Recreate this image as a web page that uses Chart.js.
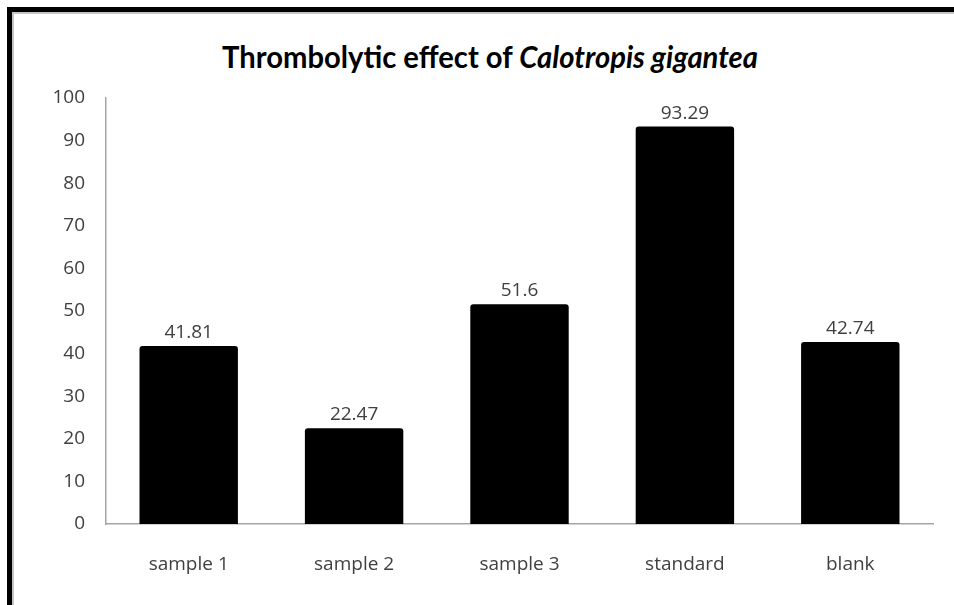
<!DOCTYPE html>
<html>
<head>
<meta charset="utf-8">
<script src="https://cdn.jsdelivr.net/npm/chart.js@4/dist/chart.umd.min.js"></script>
<style>
  html, body { margin: 0; padding: 0; background: #fff; }
  #wrap { position: relative; width: 954px; height: 605px; overflow: hidden; background: #fff; }
  #frame { position: absolute; left: 7px; top: 7px; right: 0; bottom: 0;
           border-left: 5px solid #000; border-top: 5px solid #000; }
  #inner { position: absolute; left: 0; top: 0; right: 0; bottom: 0;
           border-left: 2px solid #c4c4c4; border-top: 2px solid #c4c4c4; }
  #title { position: absolute; top: 41px; left: 0; white-space: nowrap;
           font-family: Lato, "Open Sans", sans-serif; font-weight: bold; font-size: 30px;
           line-height: 30px; color: #000; transform-origin: 0 0; }
  #title i { font-style: italic; }
  canvas { position: absolute; left: 0; top: 0; }
</style>
</head>
<body>
<div id="wrap">
  <div id="frame"><div id="inner"></div></div>
  <div id="title">Thrombolytic effect of <i>Calotropis gigantea</i></div>
  <canvas id="c" width="954" height="605"></canvas>
</div>
<script>
const categories = ["sample 1", "sample 2", "sample 3", "standard", "blank"];
const values = [41.81, 22.47, 51.6, 93.29, 42.74];
const yMin = 0, yMax = 100, yStep = 10;

// fit the HTML title to the reference's width and position
(function () {
  const t = document.getElementById('title');
  const w = t.getBoundingClientRect().width;
  const targetW = 536, targetLeft = 222;
  t.style.transform = 'scaleX(' + (targetW / w) + ')';
  t.style.left = targetLeft + 'px';
})();

const FONT = '"Open Sans", sans-serif';
const TXT = '#404040';

const valueLabels = {
  id: 'valueLabels',
  afterDatasetsDraw(chart) {
    const ctx = chart.ctx;
    const meta = chart.getDatasetMeta(0);
    ctx.save();
    ctx.font = '19px ' + FONT;
    ctx.fillStyle = TXT;
    ctx.textAlign = 'center';
    ctx.textBaseline = 'alphabetic';
    meta.data.forEach((bar, i) => {
      ctx.fillText(String(values[i]), bar.x, bar.y - 8);
    });
    ctx.restore();
  }
};

new Chart(document.getElementById('c'), {
  type: 'bar',
  data: {
    labels: categories,
    datasets: [{
      data: values,
      backgroundColor: '#000',
      borderColor: '#000',
      borderWidth: 0,
      borderRadius: 3,
      barPercentage: 0.595,
      categoryPercentage: 1.0
    }]
  },
  options: {
    responsive: false,
    animation: false,
    events: [],
    layout: { padding: { left: 0, right: 21, top: 98, bottom: 0 } },
    plugins: { legend: { display: false }, tooltip: { enabled: false }, title: { display: false } },
    scales: {
      x: {
        grid: { display: false, drawTicks: false },
        border: { display: true, color: '#a6a6a6', width: 1.5 },
        ticks: { font: { family: FONT, size: 19 }, color: TXT, padding: 29 },
        afterFit(s) { s.height = 81; }
      },
      y: {
        min: yMin, max: yMax,
        grid: { display: false, drawTicks: false },
        border: { display: true, color: '#a6a6a6', width: 1.5 },
        ticks: { stepSize: yStep, font: { family: FONT, size: 19 }, color: TXT, padding: 21 },
        afterFit(s) { s.width = 106; }
      }
    }
  },
  plugins: [valueLabels]
});
</script>
</body>
</html>
